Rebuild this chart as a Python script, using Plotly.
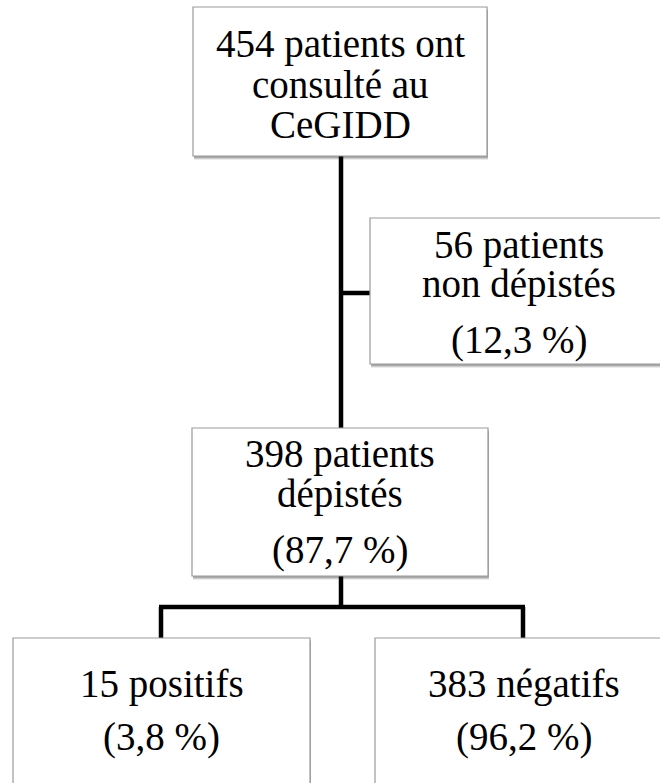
import plotly.graph_objects as go

# ---- data ----
node_ids = ["total", "non_depistes", "depistes", "positifs", "negatifs"]
counts = [454, 56, 398, 15, 383]
percents = [None, "12,3 %", "87,7 %", "3,8 %", "96,2 %"]
label_lines = [
    ["{n} patients ont", "consulté au", "CeGIDD"],
    ["{n} patients", "non dépistés"],
    ["{n} patients", "dépistés"],
    ["{n} positifs"],
    ["{n} négatifs"],
]

# ---- layout (pixel geometry) ----
W, H = 660, 783
boxes = {
    "total": (193, 7, 487, 156),
    "non_depistes": (370, 218, 668, 364),
    "depistes": (192, 428, 488, 576),
    "positifs": (13, 638, 310, 800),
    "negatifs": (375, 638, 672, 800),
}
# baselines of text lines for each box
baselines = {
    "total": [57, 97, 137],
    "non_depistes": [258, 297, 353],
    "depistes": [467, 507, 563],
    "positifs": [697, 750],
    "negatifs": [697, 750],
}
FONT = "Liberation Serif, Times New Roman, serif"
FS = 39

fig = go.Figure()
shapes = []
annotations = []

# connectors
cx = 341
LW = 4.5
def line(x0, y0, x1, y1):
    shapes.append(dict(type="line", x0=x0, y0=y0, x1=x1, y1=y1, xref="x", yref="y",
                       line=dict(color="black", width=LW), layer="below"))

line(cx, 156, cx, 428)
line(cx - 2, 293, 370, 293)
line(cx, 576, cx, 607)
line(161 - 2, 607, 523 + 2, 607)
line(161, 607, 161, 638)
line(523, 607, 523, 638)

for nid, cnt, pct, lines in zip(node_ids, counts, percents, label_lines):
    x0, y0, x1, y1 = boxes[nid]
    # soft shadow
    for off, a in [(4, 0.08), (3, 0.12), (2, 0.18)]:
        shapes.append(dict(type="rect", x0=x0 + 1, y0=y0 + off, x1=x1 + 1, y1=y1 + off,
                           xref="x", yref="y", line=dict(width=0),
                           fillcolor=f"rgba(0,0,0,{a})", layer="above"))
    shapes.append(dict(type="rect", x0=x0, y0=y0, x1=x1, y1=y1, xref="x", yref="y",
                       line=dict(color="#9a9a9a", width=1.2), fillcolor="white", layer="above"))
    texts = [l.format(n=cnt) for l in lines]
    if pct is not None:
        texts.append(f"({pct})")
    xc = (x0 + x1) / 2
    for t, b in zip(texts, baselines[nid]):
        annotations.append(dict(x=xc, y=b - 0.33 * FS, xref="x", yref="y", text=t,
                                showarrow=False, xanchor="center", yanchor="middle",
                                font=dict(family=FONT, size=FS, color="black")))

fig.update_layout(
    width=W, height=H,
    margin=dict(l=0, r=0, t=0, b=0),
    paper_bgcolor="white", plot_bgcolor="white",
    xaxis=dict(range=[0, W], visible=False, fixedrange=True),
    yaxis=dict(range=[H, 0], visible=False, fixedrange=True),
    shapes=shapes, annotations=annotations, showlegend=False,
)
fig.write_html("out.html", config={"displayModeBar": False},
               post_script="document.body.style.margin='0';document.body.style.overflow='hidden';")
